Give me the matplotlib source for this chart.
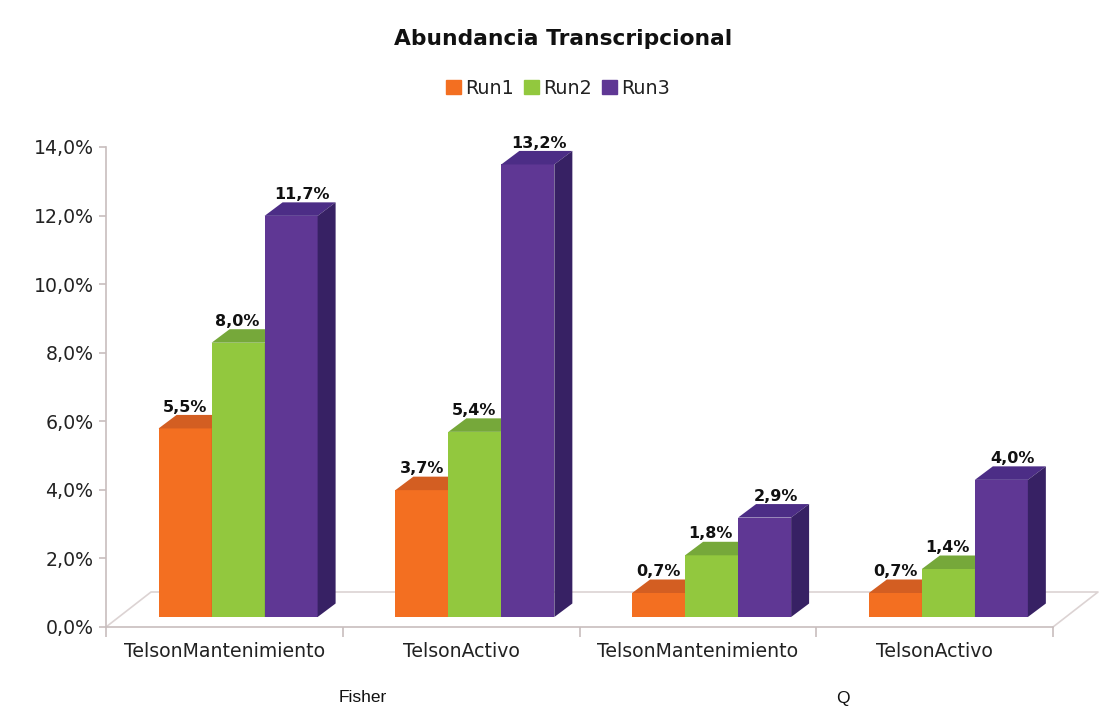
"""Abundancia Transcripcional: 3D-look grouped bars drawn in plain 2D axes."""

import matplotlib

matplotlib.use("Agg")
import matplotlib.pyplot as plt
from matplotlib.patches import Patch, Polygon

W, H = 1111, 708

categories = ["TelsonMantenimiento", "TelsonActivo", "TelsonMantenimiento", "TelsonActivo"]
runs = ["Run1", "Run2", "Run3"]
run1 = [5.5, 3.7, 0.7, 0.7]
run2 = [8.0, 5.4, 1.8, 1.4]
run3 = [11.7, 13.2, 2.9, 4.0]
y_ticks = [0, 2, 4, 6, 8, 10, 12, 14]
y_labels = ["0,0%", "2,0%", "4,0%", "6,0%", "8,0%", "10,0%", "12,0%", "14,0%"]

front_colors = ["#f36f21", "#92c83e", "#5f3794"]
top_colors = ["#d35e22", "#76a83a", "#4c2d86"]
side_color = "#372164"
axis_color = "#c8bebe"

# axes box in reference pixels
AX_L, AX_R, AX_TOP, AX_BOT = 106, 1053, 147, 627
PX_X = (AX_R - AX_L) / len(categories)
PX_Y = (AX_BOT - AX_TOP) / 14

# sizes in px, converted to data units
bar_w = 53 / PX_X
depth_x, depth_y = 18 / PX_X, 13.5 / PX_Y
floor_x, floor_y = 45 / PX_X, 35 / PX_Y
base = 10 / PX_Y
shift = 0.558  # group centre, pushed right of the tick midpoint
label_dx = [0, -1, 11]

fig = plt.figure(figsize=(W / 100, H / 100), dpi=100)
ax = fig.add_axes([AX_L / W, 1 - AX_BOT / H, (AX_R - AX_L) / W, (AX_BOT - AX_TOP) / H])
ax.set_xlim(0, len(categories))
ax.set_ylim(0, 14)

# floor of the fake 3D box
n = len(categories)
floor = [(0, 0), (floor_x, floor_y), (n + floor_x, floor_y), (n, 0)]
ax.plot(*zip(*floor), color="#dcd3d3", lw=1.2, clip_on=False, zorder=1)

for s, vals in enumerate([run1, run2, run3]):
    for i, v in enumerate(vals):
        x0 = i + shift + (s - 1.5) * bar_w
        top = base + v
        ax.bar(x0, v, bar_w, bottom=base, align="edge", color=front_colors[s], zorder=3 + s)
        ax.add_patch(Polygon(
            [(x0, top), (x0 + depth_x, top + depth_y),
             (x0 + bar_w + depth_x, top + depth_y), (x0 + bar_w, top)],
            color=top_colors[s], lw=0, zorder=3 + s,
        ))
        ax.add_patch(Polygon(
            [(x0 + bar_w, base), (x0 + bar_w + depth_x, base + depth_y),
             (x0 + bar_w + depth_x, top + depth_y), (x0 + bar_w, top)],
            color=side_color if s == 2 else top_colors[s], lw=0, zorder=3 + s,
        ))
        ax.annotate(f"{v:.1f}%".replace(".", ","), (x0 + bar_w / 2, top),
                    xytext=(label_dx[s] * 0.72, 10), textcoords="offset points",
                    ha="center", va="bottom", fontsize=11.5, fontweight="bold",
                    color="#111111", zorder=10, annotation_clip=False)

ax.set_yticks(y_ticks, y_labels, fontsize=13.6, color="#222222")
ax.set_xticks(range(n + 1), [""] * (n + 1))
ax.set_xticks([i + 0.5 for i in range(n)], categories, minor=True, fontsize=13.6, color="#222222")
ax.tick_params(axis="y", color=axis_color, length=5, width=1.2, pad=4)
ax.tick_params(axis="x", which="major", color=axis_color, length=7, width=1.2)
ax.tick_params(axis="x", which="minor", length=0, pad=11)
for side in ["top", "right"]:
    ax.spines[side].set_visible(False)
for side in ["left", "bottom"]:
    ax.spines[side].set_color(axis_color)
    ax.spines[side].set_linewidth(1.2)

fig.text(563 / W, 1 - 39 / H, "Abundancia Transcripcional", ha="center", va="center",
         fontsize=15.7, fontweight="bold", color="#111111")
handles = [Patch(color=c, label=r) for c, r in zip(front_colors, runs)]
fig.legend(handles=handles, loc="center", bbox_to_anchor=(558 / W, 1 - 88 / H), ncol=3,
           frameon=False, fontsize=13.8, handlelength=0.8, handleheight=0.8,
           handletextpad=0.2, columnspacing=0.52, labelcolor="#222222")

fig.text(363 / W, 1 - 698 / H, "Fisher", ha="center", va="center", fontsize=12.5,
         family="Liberation Sans", color="#111111")
fig.text(843 / W, 1 - 698 / H, "Q", ha="center", va="center", fontsize=12.5,
         family="Liberation Sans", color="#111111")

fig.savefig("out.png", dpi=100)
